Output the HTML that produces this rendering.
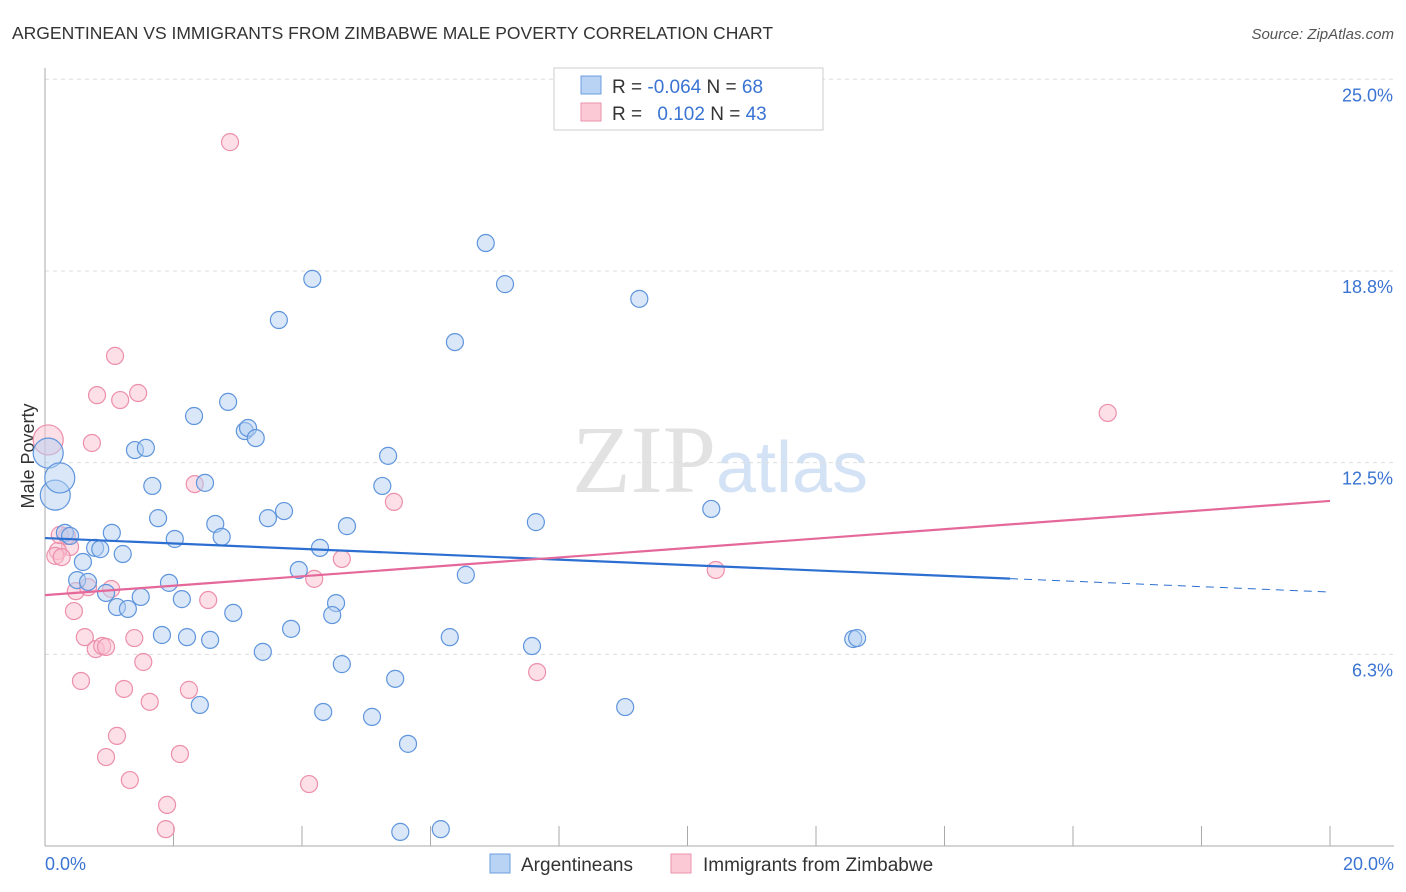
<!DOCTYPE html>
<html><head><meta charset="utf-8"><style>
body{margin:0;background:#fff;font-family:"Liberation Sans",sans-serif}
svg{display:block}
</style></head><body>
<svg id="chart" width="1406" height="892" viewBox="0 0 1406 892" xmlns="http://www.w3.org/2000/svg">
<text x="12" y="39" font-size="17.5" fill="#333">ARGENTINEAN VS IMMIGRANTS FROM ZIMBABWE MALE POVERTY CORRELATION CHART</text>
<text x="1394" y="39" font-size="15" fill="#555" font-style="italic" text-anchor="end">Source: ZipAtlas.com</text>
<text x="720" y="492" font-size="96" fill="#e2e2e2" text-anchor="middle" font-family="Liberation Serif,serif">ZIP<tspan fill="#d3e2f4" font-family="Liberation Sans,sans-serif" font-size="72">atlas</tspan></text>
<text transform="translate(34,456) rotate(-90)" font-size="18" fill="#333" text-anchor="middle">Male Poverty</text>
<g id="grid"></g><g id="axes"></g><g id="pts"></g><g id="trend"></g>
<g>
<rect x="554" y="68" width="269" height="62" fill="#fff" stroke="#ccc"/>
<rect x="581" y="76" width="20" height="18" fill="#b8d3f3" stroke="#6d9ee0"/>
<rect x="581" y="103" width="20" height="18" fill="#fbc8d6" stroke="#ec93ae"/>
<text x="612" y="93" font-size="19" fill="#333">R = <tspan fill="#3a74d2">-0.064</tspan>   N = <tspan fill="#3a74d2">68</tspan></text>
<text x="612" y="120" font-size="19" fill="#333">R =  <tspan fill="#3a74d2" dx="10">0.102</tspan>   N = <tspan fill="#3a74d2">43</tspan></text>
</g>
<g>
<rect x="490" y="854" width="20" height="19" fill="#b8d3f3" stroke="#6d9ee0"/>
<text x="521" y="871" font-size="19" fill="#333">Argentineans</text>
<rect x="671" y="854" width="20" height="19" fill="#fbc8d6" stroke="#ec93ae"/>
<text x="703" y="871" font-size="19" fill="#333">Immigrants from Zimbabwe</text>
</g>
</svg>
<script>
const yTicks=[6.3,12.5,18.8,25.0];
const blueX=[0.05,0.16,0.23,0.31,0.39,0.78,0.86,1.04,1.21,0.59,0.50,0.67,0.95,1.12,1.29,1.49,1.93,2.13,1.82,2.21,2.57,2.93,3.39,3.83,3.95,4.28,4.53,4.47,4.62,4.33,5.09,5.45,5.65,5.53,6.16,6.30,6.55,7.58,9.03,12.58,12.64,10.37,7.64,4.70,5.25,5.34,3.47,3.72,2.65,2.75,2.02,1.76,2.49,1.67,1.40,1.57,2.32,2.85,3.11,3.16,3.28,3.64,4.16,6.38,6.86,7.16,9.25,2.41];
const blueY=[12.81,11.44,12.0,10.21,10.11,9.72,9.68,10.21,9.52,9.26,8.67,8.61,8.25,7.79,7.73,8.12,8.58,8.05,6.88,6.81,6.72,7.60,6.33,7.08,9.0,9.72,7.92,7.53,5.93,4.37,4.21,5.45,3.33,0.46,0.55,6.81,8.84,6.52,4.53,6.75,6.78,10.99,10.56,10.43,11.74,12.72,10.69,10.92,10.5,10.08,10.01,10.69,11.84,11.74,12.91,12.98,14.02,14.48,13.53,13.63,13.30,17.15,18.49,16.43,19.66,18.32,17.84,4.60];
const blueBig=[0,1,2];
const pinkX=[0.05,0.73,0.39,0.20,0.16,0.26,0.34,0.23,0.48,0.67,1.03,0.45,0.62,0.79,0.89,0.95,1.39,1.53,0.56,1.23,1.63,2.24,1.12,0.95,1.32,2.10,1.90,1.88,4.11,2.54,2.33,2.88,1.09,0.81,1.17,1.45,4.19,4.62,5.43,7.66,10.44,16.54];
const pinkY=[13.24,13.14,9.75,9.62,9.46,9.42,10.11,10.14,8.31,8.44,8.38,7.66,6.81,6.42,6.52,6.49,6.78,6.0,5.38,5.12,4.7,5.09,3.59,2.90,2.15,3.0,1.34,0.55,2.02,8.02,11.8,22.95,15.98,14.7,14.54,14.77,8.71,9.36,11.22,5.67,9.0,14.12];
const pinkBig=[0];
const blueTrend=[10.04,8.28]; const blueSolidEnd=15.02;
const pinkTrend=[8.18,11.25];
const NS='http://www.w3.org/2000/svg';
const sx=v=>45+v/20*1285;
const sy=v=>846-v*30.67;
function mk(t,a,p){const e=document.createElementNS(NS,t);for(const k in a)e.setAttribute(k,a[k]);document.getElementById(p).appendChild(e);return e;}
yTicks.forEach(t=>{
 const l=mk('line',{x1:45,x2:1394,y1:sy(t===6.3?6.25:t===18.8?18.75:t),y2:sy(t===6.3?6.25:t===18.8?18.75:t),stroke:'#ddd','stroke-dasharray':'4,4'},'grid');
 
 
 const tx=mk('text',{x:1393,y:sy(t===6.3?6.25:t===18.8?18.75:t)+22,'font-size':18,fill:'#3a74d2','text-anchor':'end'},'grid');
 tx.textContent=t.toFixed(1)+'%';
 
 
});
let a=mk('line',{x1:45,x2:45,y1:68,y2:846,stroke:'#aaa'},'axes');


a=mk('line',{x1:45,x2:1394,y1:846,y2:846,stroke:'#aaa'},'axes');


for(let i=0;i<=10;i++){const t=mk('line',{x1:sx(i*2),x2:sx(i*2),y1:826,y2:846,stroke:'#aaa'},'axes');
 
 }
[['0.0%',45,'start'],['20.0%',1394,'end']].forEach(([s,x,an])=>{const t=mk('text',{x:x,y:870,'font-size':18,fill:'#3a74d2','text-anchor':an},'axes');t.textContent=s;
 
 });
function pts(X,Y,big,fill,stroke,name){X.forEach((x,i)=>{const c=mk('circle',{cx:sx(x),cy:sy(Y[i]),r:big.includes(i)?15:8.5,fill:fill,'fill-opacity':0.5,stroke:stroke,'stroke-width':1.2},'pts');
 
 });}
pts(pinkX,pinkY,pinkBig,'#f9bfd0','#ec8fab','zimbabwe-point');
pts(blueX,blueY,blueBig,'#b3cff2','#5f95dc','argentinean-point');
const by=x=>blueTrend[0]+(blueTrend[1]-blueTrend[0])*x/20;
let l=mk('line',{x1:sx(0),y1:sy(by(0)),x2:sx(blueSolidEnd),y2:sy(by(blueSolidEnd)),stroke:'#2c6fd1','stroke-width':2.2},'trend');


l=mk('line',{x1:sx(blueSolidEnd),y1:sy(by(blueSolidEnd)),x2:sx(20),y2:sy(by(20)),stroke:'#2c6fd1','stroke-width':1,'stroke-dasharray':'8,6'},'trend');


l=mk('line',{x1:sx(0),y1:sy(pinkTrend[0]),x2:sx(20),y2:sy(pinkTrend[1]),stroke:'#e4689a','stroke-width':2.2},'trend');


</script>
</body></html>
